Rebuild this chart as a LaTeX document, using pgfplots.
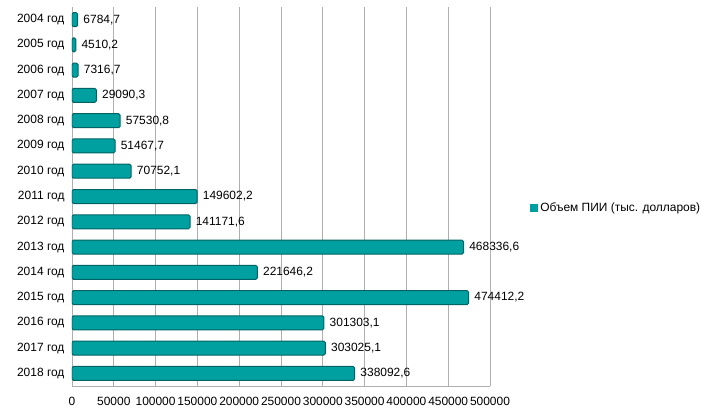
\documentclass[border=0pt]{standalone}
\usepackage{pgfplots}
\pgfplotsset{compat=1.18}
\usepackage{fontspec}
\setmainfont{Liberation Sans}
\definecolor{barfill}{RGB}{0,160,160}
\definecolor{baredge}{RGB}{0,100,100}
\definecolor{gridc}{RGB}{175,175,175}
\begin{document}
\begin{tikzpicture}
\begin{axis}[
  scale only axis,
  width=418bp, height=379bp,
  xmin=0, xmax=500000,
  ymin=-0.5, ymax=14.5,
  y dir=reverse,
  ytick={0,...,14},
  yticklabels={2004 год,2005 год,2006 год,2007 год,2008 год,2009 год,2010 год,2011 год,2012 год,2013 год,2014 год,2015 год,2016 год,2017 год,2018 год},
  xtick={0,50000,...,500000},
  scaled x ticks=false,
  xticklabel style={/pgf/number format/fixed,/pgf/number format/1000 sep={},yshift=-8bp},
  /pgf/number format/assume math mode=true,
  tick label style={font=\fontsize{12}{14}\selectfont},
  yticklabel style={xshift=-4bp},
  major tick length=0pt,
  axis x line*=bottom,
  axis y line*=left,
  axis line style={gridc, line width=1pt},
  xmajorgrids,
  grid style={gridc, line width=1pt},
  xbar,
  bar width=14bp,
  nodes near coords,
  nodes near coords style={font=\fontsize{12}{14}\selectfont, xshift=2bp, /pgf/number format/fixed, /pgf/number format/fixed zerofill, /pgf/number format/precision=1, /pgf/number format/use comma, /pgf/number format/1000 sep={}, /pgf/number format/assume math mode=true},
  legend style={at={(axis description cs:1.096,0.47)}, anchor=west, draw=none, fill=none, font=\fontsize{12}{14}\selectfont, inner sep=0pt},
  legend image code/.code={\fill[barfill, sharp corners] (0bp,-3.5bp) rectangle (7bp,3.5bp);},
]
\addplot[fill=barfill, draw=baredge, line width=1pt, rounded corners=1.5bp] coordinates {
  (6784.7,0) (4510.2,1) (7316.7,2) (29090.3,3) (57530.8,4) (51467.7,5) (70752.1,6)
  (149602.2,7) (141171.6,8) (468336.6,9) (221646.2,10) (474412.2,11) (301303.1,12)
  (303025.1,13) (338092.6,14)
};
\addlegendentry{Объем ПИИ (тыс. долларов)}
\end{axis}
\pgfresetboundingbox
\path[use as bounding box] (-72bp,-31bp) rectangle (646bp,386bp);
\end{tikzpicture}
\end{document}
